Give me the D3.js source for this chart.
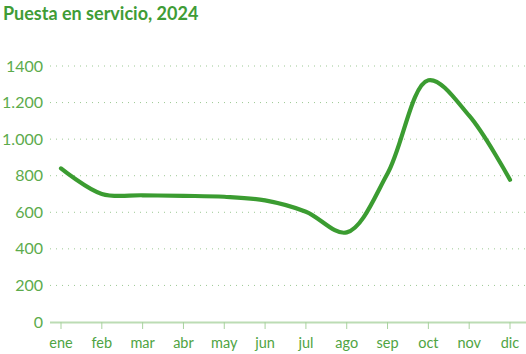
<!DOCTYPE html>
<html>
<head>
    <script src="https://d3js.org/d3.v7.min.js"></script>
    <style>
        body { margin: 0; background: #fff; font-family: Lato, "Open Sans", sans-serif; }
        .title { font-size: 18px; font-weight: bold; fill: #3f9c36; }
        .ytick { font-size: 16px; fill: #5cab4c; }
        .xtick { font-size: 14.5px; fill: #4fa443; }
    </style>
</head>
<body>
<div id="chart"></div>
<script>
    const months = ["ene", "feb", "mar", "abr", "may", "jun", "jul", "ago", "sep", "oct", "nov", "dic"];
    const values = [840, 700, 693, 690, 685, 665, 603, 490, 812, 1322, 1128, 778];
    const yTicks = [0, 200, 400, 600, 800, 1000, 1200, 1400];
    const yTickLabels = ["0", "200", "400", "600", "800", "1.000", "1.200", "1400"];

    const width = 526, height = 354;
    const svg = d3.select("#chart").append("svg")
        .attr("width", width)
        .attr("height", height);

    svg.append("text")
        .attr("class", "title")
        .attr("x", 3)
        .attr("y", 20)
        .text("Puesta en servicio, 2024");

    const x = d3.scalePoint().domain(months).range([61, 510]);
    const y = d3.scaleLinear().domain([0, 1400]).range([322, 66]);

    // dotted gridlines
    svg.selectAll(".grid")
        .data(yTicks.filter(d => d > 0))
        .enter().append("line")
        .attr("x1", 50).attr("x2", width)
        .attr("y1", d => y(d)).attr("y2", d => y(d))
        .attr("stroke", "#9cc893")
        .attr("stroke-width", 1)
        .attr("stroke-dasharray", "1,5");

    // y labels
    svg.selectAll(".ytick")
        .data(yTicks)
        .enter().append("text")
        .attr("class", "ytick")
        .attr("x", 43)
        .attr("y", d => y(d))
        .attr("dy", "0.35em")
        .attr("text-anchor", "end")
        .text((d, i) => yTickLabels[i]);

    // x axis line and ticks
    svg.append("line")
        .attr("x1", 50).attr("x2", width)
        .attr("y1", 322.5).attr("y2", 322.5)
        .attr("stroke", "#bcdcb4")
        .attr("stroke-width", 2);

    svg.selectAll(".xt")
        .data(months)
        .enter().append("line")
        .attr("x1", d => x(d)).attr("x2", d => x(d))
        .attr("y1", 322).attr("y2", 329)
        .attr("stroke", "#a9d29f")
        .attr("stroke-width", 1);

    svg.selectAll(".xtick")
        .data(months)
        .enter().append("text")
        .attr("class", "xtick")
        .attr("x", d => x(d))
        .attr("y", 348)
        .attr("text-anchor", "middle")
        .text(d => d);

    const line = d3.line()
        .x((d, i) => x(months[i]))
        .y(d => y(d))
        .curve(d3.curveCatmullRom.alpha(0.5));

    svg.append("path")
        .datum(values)
        .attr("d", line)
        .attr("fill", "none")
        .attr("stroke", "#3b9c31")
        .attr("stroke-width", 4.2)
        .attr("stroke-linecap", "round");
</script>
</body>
</html>
